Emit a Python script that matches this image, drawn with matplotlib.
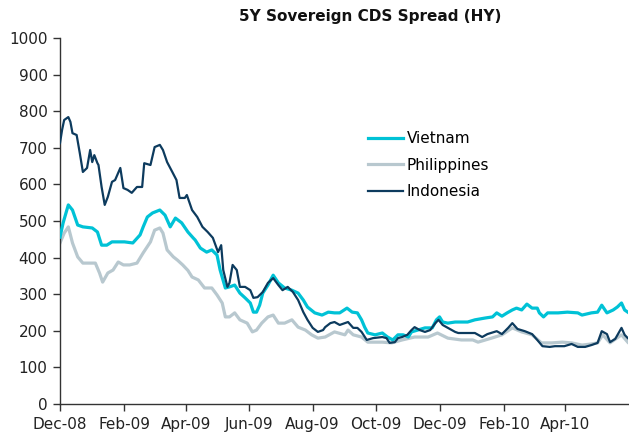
import numpy as np
import matplotlib
matplotlib.use("Agg")
import matplotlib.pyplot as plt
import matplotlib.dates as mdates

# days counted from 2008-12-01, values in bp
start = np.datetime64("2008-12-01")

vn_day = [0, 3, 8, 12, 17, 22, 31, 36, 40, 45, 50, 56, 62, 70, 77, 80, 84, 89, 96, 101,
          106, 111, 117, 123, 128, 130, 135, 141, 146, 151, 154, 159, 163, 168, 173, 178, 183, 186, 189, 192,
          195, 200, 205, 210, 216, 223, 229, 234, 238, 245, 252, 258, 264, 269, 276, 281, 286, 290, 293, 296,
          303, 310, 315, 320, 325, 330, 335, 338, 344, 351, 358, 362, 365, 368, 373, 380, 386, 392, 399, 409,
          416, 420, 425, 430, 435, 439, 444, 449, 454, 459, 461, 465, 469, 479, 488, 498, 502, 511, 517, 521,
          526, 532, 536, 540, 543, 546]
vn_val = [456, 495, 544, 530, 489, 484, 481, 470, 434, 434, 443, 443, 443, 440, 462, 484, 511, 522, 530, 516,
          484, 508, 495, 470, 454, 448, 426, 415, 421, 407, 366, 317, 320, 325, 303, 290, 276, 251, 251, 270,
          303, 325, 352, 331, 317, 311, 303, 284, 265, 249, 243, 251, 249, 249, 262, 251, 249, 230, 210, 194,
          189, 194, 183, 175, 189, 189, 183, 197, 202, 208, 208, 230, 238, 224, 221, 224, 224, 224, 230, 235,
          238, 249, 240, 249, 257, 262, 257, 273, 262, 262, 249, 238, 249, 249, 251, 249, 243, 249, 251, 270,
          249, 257, 265, 276, 257, 251]

ph_day = [0, 4, 8, 12, 17, 22, 34, 38, 41, 46, 51, 56, 61, 67, 74, 80, 87, 91, 96, 99,
          103, 109, 113, 118, 123, 127, 133, 139, 146, 151, 156, 159, 163, 168, 173, 180, 185, 189, 194, 200,
          205, 210, 216, 223, 229, 236, 242, 248, 255, 264, 274, 277, 282, 290, 296, 310, 319, 329, 341, 354,
          363, 373, 386, 397, 402, 415, 425, 435, 444, 454, 463, 473, 483, 492, 502, 511, 517, 522, 529, 540,
          546]
ph_val = [440, 467, 484, 440, 402, 385, 385, 358, 333, 358, 366, 388, 380, 380, 385, 413, 443, 475, 481, 467,
          421, 402, 393, 380, 365, 347, 339, 317, 317, 298, 276, 238, 238, 249, 230, 221, 197, 202, 221, 238,
          243, 221, 221, 230, 210, 202, 189, 180, 183, 197, 189, 202, 189, 183, 169, 169, 167, 175, 183, 183,
          194, 180, 175, 175, 169, 180, 189, 208, 197, 189, 167, 167, 169, 167, 161, 164, 167, 189, 167, 189,
          169]

id_day = [0, 2, 4, 8, 10, 12, 16, 19, 22, 26, 29, 31, 33, 36, 37, 40, 43, 46, 50, 53,
          58, 61, 65, 69, 74, 79, 81, 87, 91, 96, 99, 103, 108, 112, 115, 120, 122, 127, 132, 137,
          142, 147, 152, 155, 157, 161, 163, 166, 170, 173, 178, 183, 186, 190, 195, 200, 205, 210, 214, 219,
          224, 229, 234, 238, 243, 248, 253, 255, 260, 264, 269, 274, 277, 282, 286, 290, 295, 301, 310, 314,
          317, 322, 325, 329, 334, 338, 341, 346, 351, 356, 361, 364, 368, 373, 380, 383, 392, 399, 406, 411,
          420, 425, 431, 435, 440, 447, 454, 459, 464, 471, 476, 485, 492, 498, 505, 511, 517, 521, 526, 529,
          534, 540, 543, 546]
id_val = [713, 749, 776, 784, 771, 740, 735, 686, 634, 645, 694, 661, 680, 658, 653, 593, 544, 566, 607, 612,
          645, 590, 585, 577, 593, 593, 658, 653, 702, 708, 694, 661, 634, 612, 563, 563, 571, 530, 511, 484,
          470, 454, 415, 434, 366, 320, 331, 380, 366, 320, 320, 311, 290, 292, 306, 331, 344, 325, 311, 320,
          306, 284, 251, 230, 208, 197, 202, 210, 221, 224, 216, 221, 224, 208, 208, 197, 175, 180, 183, 180,
          167, 169, 180, 183, 189, 202, 210, 202, 197, 202, 221, 230, 216, 208, 197, 194, 194, 194, 183, 191,
          199, 191, 208, 221, 205, 199, 191, 175, 158, 156, 158, 158, 164, 156, 156, 161, 167, 199, 191, 169,
          178, 208, 189, 180]

tick_dates = ["2008-12-01", "2009-02-01", "2009-04-01", "2009-06-01", "2009-08-01",
              "2009-10-01", "2009-12-01", "2010-02-01", "2010-04-01"]
tick_labels = ["Dec-08", "Feb-09", "Apr-09", "Jun-09", "Aug-09",
               "Oct-09", "Dec-09", "Feb-10", "Apr-10"]

def to_dates(days):
    return start + np.array(days, dtype="timedelta64[D]")

plt.rcParams["font.family"] = "DejaVu Sans"
fig = plt.figure(figsize=(6.29, 4.37), dpi=100)
ax = fig.add_axes([0.0954, 0.0755, 0.9026, 0.8375])

ax.plot(to_dates(ph_day), ph_val, color="#b8c8cf", lw=2.3, label="Philippines", zorder=2)
ax.plot(to_dates(vn_day), vn_val, color="#00c2d6", lw=2.3, label="Vietnam", zorder=3)
ax.plot(to_dates(id_day), id_val, color="#0d3b5e", lw=1.6, label="Indonesia", zorder=4)

ax.set_ylim(0, 1000)
ax.set_yticks(range(0, 1001, 100))
ax.set_xlim(start, np.datetime64("2010-05-31"))
ax.set_xticks([np.datetime64(d) for d in tick_dates])
ax.set_xticklabels(tick_labels)

for s in ["top", "right"]:
    ax.spines[s].set_visible(False)
for s in ["left", "bottom"]:
    ax.spines[s].set_color("#333333")
    ax.spines[s].set_linewidth(1.0)
ax.tick_params(axis="both", direction="out", length=5, width=1, color="#333333",
               labelsize=11, labelcolor="#222222", pad=4)

handles, labels = ax.get_legend_handles_labels()
order = [1, 0, 2]
ax.legend([handles[i] for i in order], [labels[i] for i in order],
          loc="upper left", bbox_to_anchor=(0.542, 0.745), frameon=False,
          fontsize=11, handlelength=2.3, handletextpad=0.25, labelspacing=0.75,
          borderpad=0, borderaxespad=0)

fig.text(0.588, 0.962, "5Y Sovereign CDS Spread (HY)", ha="center", va="center",
         fontsize=11, fontweight="bold", color="#111111")

fig.savefig("out.png", dpi=100)
